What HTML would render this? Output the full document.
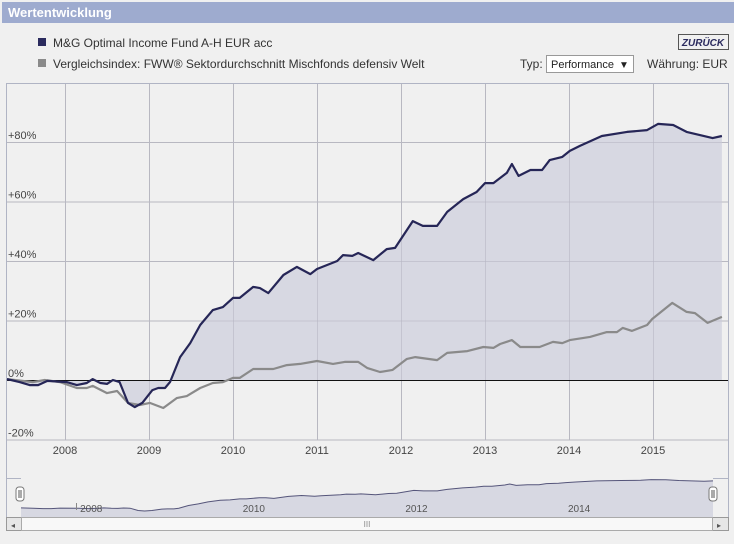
<!DOCTYPE html>
<html><head><meta charset="utf-8"><style>
body{margin:0;background:#f0f0f0;font-family:"Liberation Sans",sans-serif;}
svg text{font-family:"Liberation Sans",sans-serif;}
</style></head><body>
<svg width="734" height="539" xmlns="http://www.w3.org/2000/svg">
<rect x="0" y="0" width="734" height="539" fill="#f0f0f0"/>
<rect x="2" y="2" width="732" height="21" fill="#9eabcf"/>
<text x="8" y="17" font-size="13" font-weight="bold" fill="#ffffff">Wertentwicklung</text>
<rect x="38" y="38" width="8" height="8" fill="#2b2b5e"/>
<text x="53" y="47" font-size="12" fill="#333">M&amp;G Optimal Income Fund A-H EUR acc</text>
<rect x="38" y="59" width="8" height="8" fill="#8a8a8a"/>
<text x="53" y="68" font-size="12" fill="#333">Vergleichsindex: FWW® Sektordurchschnitt Mischfonds defensiv Welt</text>
<g>
<rect x="678.5" y="34.5" width="50" height="15" fill="#f0f0f0" stroke="#555"/>
<text x="703" y="46" font-size="10" font-weight="bold" font-style="italic" fill="#2b2b5e" text-anchor="middle">ZURÜCK</text>
</g>
<text x="520" y="68" font-size="12" fill="#333">Typ:</text>
<g>
<rect x="546.5" y="55.5" width="87" height="17" fill="#fff" stroke="#999"/>
<text x="551" y="68" font-size="11" fill="#222">Performance</text>
<text x="619" y="68" font-size="10" fill="#222">▼</text>
</g>
<text x="647" y="68" font-size="12" fill="#333">Währung: EUR</text>
<g id="plot"></g>
</svg>
<script>
const fundDates=[2007.31,2007.46,2007.58,2007.68,2007.79,2008.02,2008.14,2008.26,2008.33,2008.42,2008.50,2008.57,2008.65,2008.75,2008.83,2008.92,2009.04,2009.11,2009.19,2009.25,2009.37,2009.49,2009.61,2009.76,2009.88,2010.00,2010.08,2010.24,2010.32,2010.42,2010.60,2010.76,2010.92,2011.00,2011.24,2011.31,2011.42,2011.49,2011.67,2011.83,2011.93,2012.14,2012.26,2012.43,2012.55,2012.74,2012.90,2013.00,2013.10,2013.26,2013.32,2013.40,2013.54,2013.68,2013.77,2013.92,2014.01,2014.13,2014.39,2014.69,2014.93,2015.06,2015.24,2015.40,2015.71,2015.82];
const fundValues=[0.3,-0.7,-1.7,-1.7,-0.3,-0.7,-1.7,-1.0,0.3,-1.0,-1.3,0,-0.7,-7.7,-9.1,-7.7,-3.4,-2.7,-2.7,-0.7,7.7,12.4,18.5,23.5,24.5,27.6,27.6,31.3,30.9,29.2,35.3,38.0,35.6,37.3,40.0,42.0,41.7,42.7,40.3,44.0,44.4,53.4,51.8,51.8,56.5,60.8,63.2,66.2,66.2,69.6,72.6,68.6,70.6,70.6,73.9,75.0,77.0,78.7,82.0,83.4,84.0,86.1,85.7,83.4,81.3,82.0];
const indexDates=[2007.31,2007.62,2007.76,2007.94,2008.14,2008.26,2008.33,2008.50,2008.62,2008.75,2008.89,2009.01,2009.17,2009.33,2009.45,2009.61,2009.76,2009.88,2010.00,2010.08,2010.24,2010.48,2010.64,2010.80,2011.00,2011.19,2011.33,2011.49,2011.60,2011.75,2011.90,2012.07,2012.17,2012.43,2012.55,2012.79,2012.98,2013.10,2013.18,2013.32,2013.42,2013.65,2013.81,2013.92,2014.01,2014.25,2014.45,2014.57,2014.64,2014.75,2014.93,2014.99,2015.23,2015.40,2015.50,2015.65,2015.82];
const indexValues=[0.3,-0.7,0,-0.7,-2.7,-2.7,-2.0,-4.4,-3.7,-7.7,-8.4,-7.7,-9.4,-6.1,-5.4,-2.7,-1.0,-0.7,0.7,0.7,3.7,3.7,5.0,5.4,6.4,5.4,6.1,6.1,4.0,2.7,3.4,7.1,7.7,6.7,9.1,9.7,11.1,10.8,12.1,13.4,11.1,11.1,12.8,12.4,13.4,14.5,16.1,16.1,17.5,16.5,18.5,20.5,25.9,22.9,22.5,19.2,21.2];
const yTicks=[80,60,40,20,0,-20];
const yTickLabels=["+80%","+60%","+40%","+20%","0%","-20%"];
const xTicks=[2008,2009,2010,2011,2012,2013,2014,2015];
const navTicks=[2008,2010,2012,2014];

const NS="http://www.w3.org/2000/svg";
const g=document.getElementById('plot');
function X(t){return 65+(t-2008)*84;}
function Y(v){return 380-v*2.975;}
function NX(t){return 21+(t-2007.31)*(692/8.51);}
function NY(v){return 508-v*0.33;}
function mk(tag,attrs,parent){const e=document.createElementNS(NS,tag);for(const k in attrs)e.setAttribute(k,attrs[k]);(parent||g).appendChild(e);return e;}

let e=mk('path',{d:'M6.5 530 V83.5 H728.5 V530',fill:'none',stroke:'#b0b4c4'});


yTicks.forEach((v,i)=>{
 let l=mk('line',{x1:7,x2:728,y1:Y(v)+0.5,y2:Y(v)+0.5,stroke:'#b8b8bc'});
 
 
 let t=mk('text',{x:8,y:Y(v)-3,'font-size':11,fill:'#444'});
 t.textContent=yTickLabels[i];
 
 
});
xTicks.forEach(y=>{
 let l=mk('line',{x1:X(y)+0.5,x2:X(y)+0.5,y1:84,y2:440,stroke:'#b8b8bc'});
 
 
 let t=mk('text',{x:X(y),y:454,'font-size':11,fill:'#444','text-anchor':'middle'});
 t.textContent=y;
 
 
});
let pts=fundDates.map((d,i)=>X(d).toFixed(1)+','+Y(fundValues[i]).toFixed(1));
let area=mk('path',{d:'M'+X(fundDates[0])+','+Y(0)+' L'+pts.join(' L')+' L'+X(fundDates[fundDates.length-1])+','+Y(0)+'Z',fill:'#d7d8e2'});


xTicks.forEach(y=>{mk('line',{x1:X(y)+0.5,x2:X(y)+0.5,y1:84,y2:440,stroke:'#b8b8c4','stroke-opacity':0.6});});
yTicks.forEach(v=>{mk('line',{x1:7,x2:728,y1:Y(v)+0.5,y2:Y(v)+0.5,stroke:'#b8b8c4','stroke-opacity':0.6});});
let zl=mk('line',{x1:7,x2:728,y1:Y(0)+0.5,y2:Y(0)+0.5,stroke:'#111'});


let ip=mk('polyline',{points:indexDates.map((d,i)=>X(d).toFixed(1)+','+Y(indexValues[i]).toFixed(1)).join(' '),fill:'none',stroke:'#8a8a8a','stroke-width':2.2,'stroke-linejoin':'round'});


let fp=mk('polyline',{points:pts.join(' '),fill:'none',stroke:'#262657','stroke-width':2.2,'stroke-linejoin':'round'});



mk('path',{d:'M6.5 478.5 H21 M713 478.5 H728.5',fill:'none',stroke:'#b0b4c4'});
let npts=fundDates.map((d,i)=>NX(d).toFixed(1)+','+NY(fundValues[i]).toFixed(1));
let na=mk('path',{d:'M21,517 L'+npts.join(' L')+' L713,517Z',fill:'#d7d8e2'});


let nl=mk('polyline',{points:npts.join(' '),fill:'none',stroke:'#55557a','stroke-width':1});


navTicks.forEach(y=>{
 let t=mk('text',{x:NX(y)+3,y:512,'font-size':10,fill:'#555'});
 t.textContent=y;
 
 
});
mk('line',{x1:76.5,x2:76.5,y1:503,y2:510,stroke:'#888'});
[20,713].forEach((hx,i)=>{
 let h=mk('rect',{x:hx-4,y:487,width:8,height:14,rx:3,fill:'#fff',stroke:'#777'});
 
 
 mk('line',{x1:hx-1,x2:hx-1,y1:490,y2:498,stroke:'#555'});
 mk('line',{x1:hx+1,x2:hx+1,y1:490,y2:498,stroke:'#555'});
});
let sb=mk('rect',{x:6.5,y:517.5,width:722,height:13,fill:'#e6e6e6',stroke:'#999'});


let th=mk('rect',{x:21.5,y:517.5,width:691,height:13,fill:'#f8f8f8',stroke:'#aaa'});


let lt=mk('text',{x:11,y:528,'font-size':8,fill:'#555'});lt.textContent='◂';


let rt=mk('text',{x:717,y:528,'font-size':8,fill:'#555'});rt.textContent='▸';


let gr=mk('text',{x:367,y:527,'font-size':8,fill:'#888','text-anchor':'middle'});gr.textContent='III';
</script>
</body></html>
